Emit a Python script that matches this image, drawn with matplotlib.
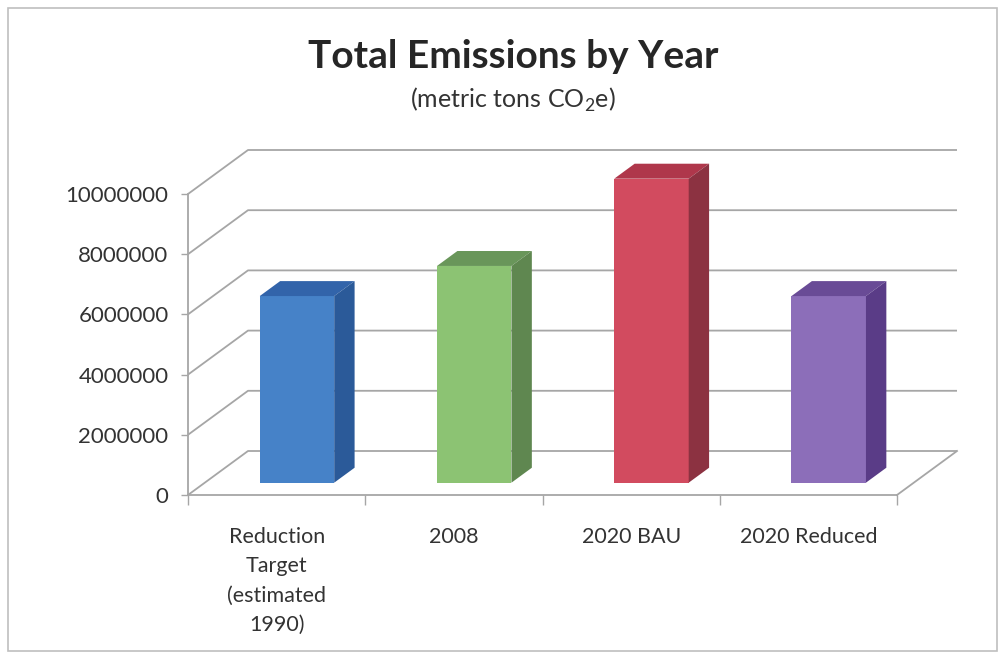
import matplotlib
matplotlib.use("Agg")
import matplotlib.pyplot as plt
from matplotlib.patches import Polygon, Rectangle

# --- data -------------------------------------------------------------
categorias = ["Reduction\nTarget\n(estimated\n1990)", "2008", "2020 BAU", "2020 Reduced"]
emisiones = [6.2e6, 7.2e6, 10.1e6, 6.2e6]
y_ticks = [0, 2000000, 4000000, 6000000, 8000000, 10000000]

# front / top / side colour of each column
col_frente = ["#4682c8", "#8cc373", "#d24b5f", "#8c6eb9"]
col_arriba = ["#3264aa", "#69965a", "#af374b", "#694b96"]
col_lado = ["#2b5a99", "#5f8750", "#8c3241", "#5a3c87"]

GRIS = "#a6a6a6"
FUENTE = ["Lato", "DejaVu Sans"]
plt.rcParams["font.family"] = FUENTE

W, H = 1005, 659
fig = plt.figure(figsize=(W / 100, H / 100), dpi=100)
fig.patch.set_facecolor("white")

# front plane of the 3D box, in pixels
x0_px, x1_px = 188, 897
y0_px, y1_px = 495, 194
ax = fig.add_axes([x0_px / W, 1 - y0_px / H, (x1_px - x0_px) / W, (y0_px - y1_px) / H])
ax.set_xlim(-0.5, 3.5)
ax.set_ylim(0, 1e7)

# oblique depth vector (60 px right, 44 px up) in data units
cat_px = (x1_px - x0_px) / 4
val_px = (y0_px - y1_px) / 1e7
DX = 60 / cat_px
DY = 44 / val_px


def proj(x, v, d):
    """Map (category x, value, depth 0..1) to data coords of the front plane."""
    return (x + d * DX, v + d * DY)


# walls: gridlines on the side wall and the back wall
for v in y_ticks:
    a = proj(-0.5, v, 0)
    b = proj(-0.5, v, 1)
    c = proj(3.5, v, 1)
    ax.plot([a[0], b[0], c[0]], [a[1], b[1], c[1]], color=GRIS, lw=1.3,
            clip_on=False, zorder=1, solid_capstyle="butt")
# right edge of the floor
a = proj(3.5, 0, 0)
b = proj(3.5, 0, 1)
ax.plot([a[0], b[0]], [a[1], b[1]], color=GRIS, lw=1.3, clip_on=False, zorder=1)

# columns
ancho = 0.42
d0, d1 = 0.28, 0.62
desplaz = 0.02
for i, val in enumerate(emisiones):
    c = i + desplaz
    xl, xr = c - ancho / 2, c + ancho / 2
    # front face
    ax.bar(c + d0 * DX, val, width=ancho, bottom=d0 * DY, color=col_frente[i],
           edgecolor="none", zorder=3, clip_on=False)
    # top face
    arriba = [proj(xl, val, d0), proj(xr, val, d0), proj(xr, val, d1), proj(xl, val, d1)]
    ax.add_patch(Polygon(arriba, closed=True, facecolor=col_arriba[i],
                         edgecolor="none", zorder=3, clip_on=False))
    # right side face
    lado = [proj(xr, 0, d0), proj(xr, val, d0), proj(xr, val, d1), proj(xr, 0, d1)]
    ax.add_patch(Polygon(lado, closed=True, facecolor=col_lado[i],
                         edgecolor="none", zorder=3, clip_on=False))

# axes
for s in ["top", "right"]:
    ax.spines[s].set_visible(False)
for s in ["left", "bottom"]:
    ax.spines[s].set_color(GRIS)
    ax.spines[s].set_linewidth(1.3)
ax.set_facecolor("none")

ax.set_yticks(y_ticks)
ax.set_yticklabels([str(t) for t in y_ticks])
ax.tick_params(axis="y", length=5, width=1, color=GRIS, pad=9,
               labelsize=16, labelcolor="#333333")

ax.set_xticks([-0.5, 0.5, 1.5, 2.5, 3.5])
ax.set_xticklabels([])
ax.tick_params(axis="x", which="major", length=7, width=1, color=GRIS)
ax.set_xticks(range(len(categorias)), minor=True)
ax.set_xticklabels(categorias, minor=True, linespacing=1.58)
ax.tick_params(axis="x", which="minor", length=0, pad=23,
               labelsize=15.5, labelcolor="#333333")
for lbl in ax.get_xticklabels(minor=True):
    lbl.set_verticalalignment("top")
    lbl.set_horizontalalignment("center")

# titles
fig.text(513 / W, 1 - 56 / H, "Total Emissions by Year", ha="center", va="center",
         fontsize=28, fontweight="bold", color="#262626")
fig.text(513 / W, 1 - 100 / H, r"(metric tons CO$_\mathregular{2}$e)", ha="center",
         va="center", fontsize=18, color="#333333")

# chart frame
fig.add_artist(Rectangle((8 / W, 8 / H), (W - 16) / W, (H - 16) / H,
                         transform=fig.transFigure, fill=False,
                         edgecolor="#bfbfbf", lw=1.2))

fig.savefig("out.png", dpi=100)
